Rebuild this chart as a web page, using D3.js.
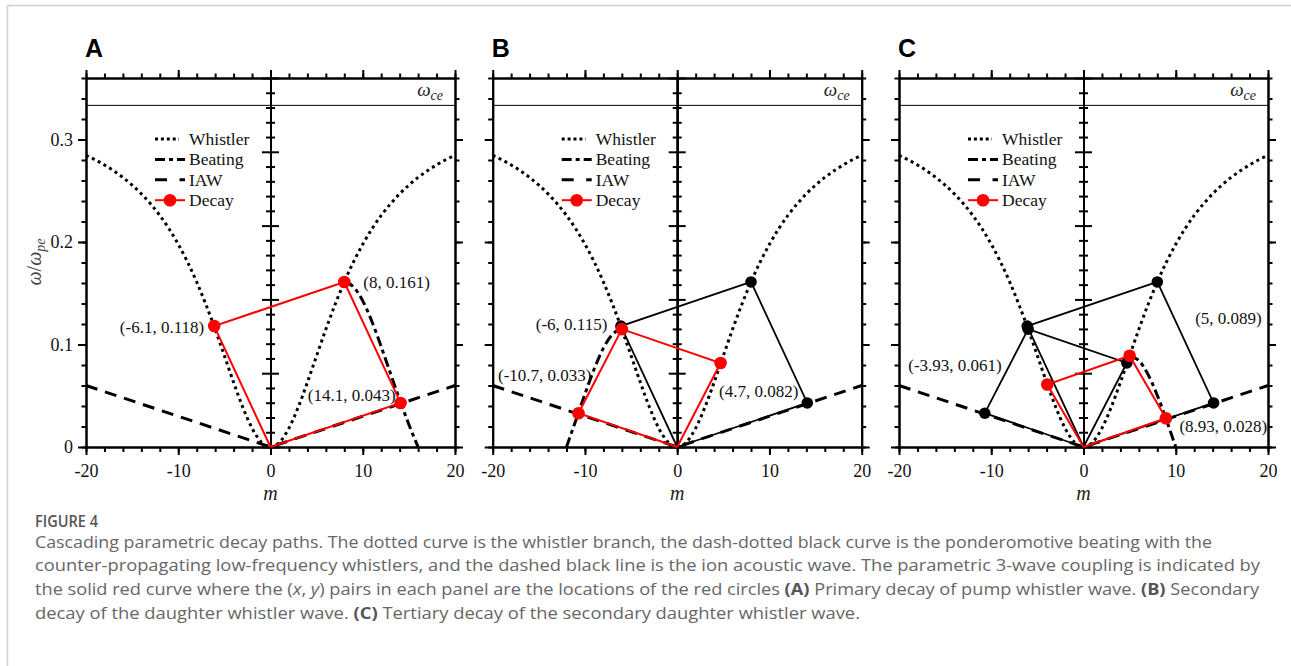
<!DOCTYPE html>
<html>
<head>
<meta charset="utf-8">
<script src="https://cdn.jsdelivr.net/npm/d3@7"></script>
<style>
  body { margin: 0; background: #fff; }
  svg { display: block; }
</style>
</head>
<body>
<svg id="fig" width="1291" height="666"></svg>
<script>
// ---------------- data ----------------
const mTicks = [-20, -10, 0, 10, 20];
const mMinorTicks = d3.range(-20, 21, 2);
const wTicks = [0, 0.1, 0.2, 0.3];
const wMinorTicks = d3.range(0, 0.3601, 0.02);
const omegaCe = 0.3333;

// whistler branch, m = -20 ... 20
const whistlerM = d3.range(-20, 21);
const whistlerW = [0.2846, 0.2802, 0.2752, 0.2695, 0.2630, 0.2555, 0.2470, 0.2372, 0.2259, 0.2129,
                   0.1978, 0.1806, 0.1610, 0.1390, 0.1148, 0.0891, 0.0631, 0.0387, 0.0184, 0.0048,
                   0,
                   0.0048, 0.0184, 0.0387, 0.0631, 0.0891, 0.1148, 0.1390, 0.1610, 0.1806, 0.1978,
                   0.2129, 0.2259, 0.2372, 0.2470, 0.2555, 0.2630, 0.2695, 0.2752, 0.2802, 0.2846];

// ion acoustic wave
const iawM = [-20, 0, 20];
const iawW = [0.06, 0, 0.06];

// ponderomotive beating curves
const beatingM_A = [8, 9, 10, 11, 12, 13, 14, 15, 16];
const beatingW_A = [0.161, 0.1562, 0.1426, 0.1223, 0.0979, 0.0719, 0.0462, 0.0220, 0];
const beatingM_B = [-12, -11, -10, -9, -8, -7, -6];
const beatingW_B = [0, 0.0257, 0.0517, 0.0761, 0.0965, 0.1100, 0.115];
const beatingM_C = [5, 6, 7, 8, 9, 10];
const beatingW_C = [0.089, 0.0843, 0.0707, 0.0504, 0.0260, 0];

// decay paths (closed loops through the origin)
const decayM_A = [0, -6.1, 8, 14.1, 0];
const decayW_A = [0, 0.118, 0.161, 0.043, 0];
const decayM_B = [0, -10.7, -6, 4.7, 0];
const decayW_B = [0, 0.033, 0.115, 0.082, 0];
const decayM_C = [0, -3.93, 5, 8.93, 0];
const decayW_C = [0, 0.061, 0.089, 0.028, 0];

const panelLetters = ["A", "B", "C"];
const legendLabels = ["Whistler", "Beating", "IAW", "Decay"];

const captionTitle = "FIGURE 4";
const captionLines = [
  [["Cascading parametric decay paths. The dotted curve is the whistler branch, the dash-dotted black curve is the ponderomotive beating with the", ""]],
  [["counter-propagating low-frequency whistlers, and the dashed black line is the ion acoustic wave. The parametric 3-wave coupling is indicated by", ""]],
  [["the solid red curve where the (", ""], ["x", "i"], [", ", ""], ["y", "i"], [") pairs in each panel are the locations of the red circles ", ""],
   ["(A)", "b"], [" Primary decay of pump whistler wave. ", ""], ["(B)", "b"], [" Secondary", ""]],
  [["decay of the daughter whistler wave. ", ""], ["(C)", "b"], [" Tertiary decay of the secondary daughter whistler wave.", ""]]
];

// ---------------- layout ----------------
const svg = d3.select("#fig");
const SERIF = "'Liberation Serif', 'DejaVu Serif', serif";
const plotW = 369, plotTop = 78, plotBottom = 447;
const panelX0 = [86, 492.7, 899];

svg.append("rect").attr("width", 1291).attr("height", 666).attr("fill", "#fff");
svg.append("rect").attr("x", 7.5).attr("y", 5.5).attr("width", 1320).attr("height", 720)
  .attr("fill", "none").attr("stroke", "#cfcfcf").attr("stroke-width", 1.5);

const zip = (ms, ws) => ms.map((m, i) => ({m, w: ws[i]}));

const panels = [
  {
    beat: zip(beatingM_A, beatingW_A),
    black: [],
    blackDots: [],
    red: zip(decayM_A, decayW_A),
    labels: [
      {p: 1, dx: -10, dy: 1.5, anchor: "end"},
      {p: 2, dx: 19, dy: 0, anchor: "start"},
      {p: 3, dx: -5, dy: -8, anchor: "end"}
    ]
  },
  {
    beat: zip(beatingM_B, beatingW_B),
    black: [zip(decayM_A, decayW_A)],
    blackDots: zip(decayM_A, decayW_A).slice(1, 4),
    red: zip(decayM_B, decayW_B),
    labels: [
      {p: 1, dx: 13, dy: -38, anchor: "end"},
      {p: 2, dx: -14.5, dy: -5, anchor: "end"},
      {p: 3, dx: -1.5, dy: 28, anchor: "start"}
    ]
  },
  {
    beat: zip(beatingM_C, beatingW_C),
    black: [zip(decayM_A, decayW_A), zip(decayM_B, decayW_B)],
    blackDots: zip(decayM_A, decayW_A).slice(1, 4).concat(zip(decayM_B, decayW_B).slice(1, 4)),
    red: zip(decayM_C, decayW_C),
    labels: [
      {p: 1, dx: -45.5, dy: -19.5, anchor: "end"},
      {p: 2, dx: 65.5, dy: -37.5, anchor: "start"},
      {p: 3, dx: 13.5, dy: 8.5, anchor: "start"}
    ]
  }
];

const styles = {
  whistler: {w: 3, dash: "3 3.6"},
  beating: {w: 3, dash: "10 4 4 4"},
  iaw: {w: 3, dash: "12 8"}
};

function styleAxis(g) {
  g.attr("font-family", null).attr("font-size", null);
  g.selectAll(".domain").attr("stroke", "#000").attr("stroke-width", 2);
  g.selectAll(".tick line").attr("stroke", "#000").attr("stroke-width", 2);
  g.selectAll(".tick text").attr("font-family", SERIF).attr("font-size", 18).attr("fill", "#111");
}

panels.forEach((P, pi) => {
  const x0 = panelX0[pi];
  const x = d3.scaleLinear().domain([-20, 20]).range([x0, x0 + plotW]);
  const y = d3.scaleLinear().domain([0, 0.36]).range([plotBottom, plotTop]);
  const yc = d3.scaleLinear().domain([0, 25]).range([plotBottom, plotTop]);
  const g = svg.append("g");

  const line = d3.line().x(d => x(d.m)).y(d => y(d.w));
  const smooth = d3.line().x(d => x(d.m)).y(d => y(d.w)).curve(d3.curveMonotoneX);

  // ω_ce reference line
  g.append("line").attr("x1", x(-20)).attr("x2", x(20)).attr("y1", y(omegaCe)).attr("y2", y(omegaCe))
    .attr("stroke", "#000").attr("stroke-width", 1);
  const ce = g.append("text").attr("x", x(20) - 12).attr("y", y(omegaCe) - 9)
    .attr("text-anchor", "end").attr("font-family", SERIF).attr("font-size", 19).attr("fill", "#222");
  ce.append("tspan").attr("font-style", "italic").text("ω");
  ce.append("tspan").attr("font-style", "italic").attr("font-size", 14).attr("dy", 3.5).text("ce");

  // dispersion curves
  g.append("path").datum(zip(whistlerM, whistlerW)).attr("d", smooth)
    .attr("fill", "none").attr("stroke", "#000").attr("stroke-width", styles.whistler.w)
    .attr("stroke-dasharray", styles.whistler.dash);
  g.append("path").datum(zip(iawM, iawW)).attr("d", line)
    .attr("fill", "none").attr("stroke", "#000").attr("stroke-width", styles.iaw.w)
    .attr("stroke-dasharray", styles.iaw.dash);
  g.append("path").datum(P.beat).attr("d", smooth)
    .attr("fill", "none").attr("stroke", "#000").attr("stroke-width", styles.beating.w)
    .attr("stroke-dasharray", styles.beating.dash);

  // axes: bottom, left, top, right, centre
  const gx = g.append("g").attr("transform", `translate(0,${plotBottom})`);
  gx.append("g").call(d3.axisBottom(x).tickValues(mMinorTicks).tickSize(5).tickSizeOuter(0).tickFormat("")).call(styleAxis);
  gx.append("g").call(d3.axisBottom(x).tickValues(mTicks).tickSize(8).tickSizeOuter(0).tickPadding(9)
    .tickFormat(d => String(d))).call(styleAxis);

  const gy = g.append("g").attr("transform", `translate(${x0},0)`);
  gy.append("g").call(d3.axisLeft(y).tickValues(wMinorTicks).tickSize(4.5).tickSizeOuter(0).tickFormat("")).call(styleAxis);
  gy.append("g").call(d3.axisLeft(y).tickValues(wTicks).tickSize(8).tickSizeOuter(0).tickPadding(5)
    .tickFormat(d => pi === 0 ? String(d) : "")).call(styleAxis);

  const gt = g.append("g").attr("transform", `translate(0,${plotTop})`);
  gt.append("g").call(d3.axisTop(x).tickValues(mMinorTicks).tickSize(4.5).tickSizeOuter(0).tickFormat("")).call(styleAxis);
  gt.append("g").call(d3.axisTop(x).tickValues(mTicks).tickSize(8).tickSizeOuter(0).tickFormat("")).call(styleAxis);

  const gr = g.append("g").attr("transform", `translate(${x0 + plotW},0)`);
  gr.append("g").call(d3.axisRight(y).tickValues(wMinorTicks).tickSize(4.5).tickSizeOuter(0).tickFormat("")).call(styleAxis);
  gr.append("g").call(d3.axisRight(y).tickValues(wTicks).tickSize(8).tickSizeOuter(0).tickFormat("")).call(styleAxis);

  const gc = g.append("g").attr("transform", `translate(${x(0)},0)`);
  const cMinor = d3.range(0, 26).filter(v => v % 5 !== 0);
  const cMajor = d3.range(0, 26, 5);
  [d3.axisLeft, d3.axisRight].forEach(ax => {
    gc.append("g").call(ax(yc).tickValues(cMinor).tickSize(4.5).tickSizeOuter(0).tickFormat("")).call(styleAxis);
    gc.append("g").call(ax(yc).tickValues(cMajor).tickSize(8.5).tickSizeOuter(0).tickFormat("")).call(styleAxis);
  });

  // earlier decay paths in black
  P.black.forEach(path => {
    g.append("path").datum(path).attr("d", line).attr("fill", "none")
      .attr("stroke", "#000").attr("stroke-width", 1.8);
  });
  g.selectAll(null).data(P.blackDots).join("circle")
    .attr("cx", d => x(d.m)).attr("cy", d => y(d.w)).attr("r", 5.8).attr("fill", "#000");

  // current decay path in red
  g.append("path").datum(P.red).attr("d", line).attr("fill", "none")
    .attr("stroke", "#ff0000").attr("stroke-width", 2);
  g.selectAll(null).data(P.red.slice(1, 4)).join("circle")
    .attr("cx", d => x(d.m)).attr("cy", d => y(d.w)).attr("r", 6.3).attr("fill", "#ff0000");

  // (m, ω) annotations
  P.labels.forEach(L => {
    const d = P.red[L.p];
    g.append("text").attr("x", x(d.m) + L.dx).attr("y", y(d.w) + L.dy).attr("dy", "0.33em")
      .attr("text-anchor", L.anchor).attr("font-family", SERIF).attr("font-size", 17).attr("fill", "#111")
      .text(`(${d.m}, ${d.w})`);
  });

  // legend
  const lg = g.append("g");
  const rowY = i => 139 + i * 20.4;
  const sx1 = x0 + 69, sx2 = x0 + 99;
  const legDash = ["3 2.9", styles.beating.dash, "12 12.5"];
  [styles.whistler, styles.beating, styles.iaw].forEach((s, i) => {
    lg.append("line").attr("x1", sx1).attr("x2", i === 0 ? sx2 - 6 : sx2).attr("y1", rowY(i)).attr("y2", rowY(i))
      .attr("stroke", "#000").attr("stroke-width", s.w).attr("stroke-dasharray", legDash[i]);
  });
  lg.append("line").attr("x1", sx1).attr("x2", sx2).attr("y1", rowY(3)).attr("y2", rowY(3))
    .attr("stroke", "#ff0000").attr("stroke-width", 2);
  lg.append("circle").attr("cx", (sx1 + sx2) / 2).attr("cy", rowY(3)).attr("r", 6.3).attr("fill", "#ff0000");
  legendLabels.forEach((t, i) => {
    lg.append("text").attr("x", sx2 + 4).attr("y", rowY(i)).attr("dy", "0.33em")
      .attr("font-family", SERIF).attr("font-size", 17.5).attr("fill", "#111").text(t);
  });

  // x-axis title
  g.append("text").attr("x", x(0)).attr("y", 500).attr("text-anchor", "middle")
    .attr("font-family", SERIF).attr("font-size", 20).attr("font-style", "italic").attr("fill", "#222").text("m");

  // panel letter
  g.append("text").attr("x", x0 - 1).attr("y", 57).attr("font-family", "'Liberation Sans', Arial, sans-serif")
    .attr("font-weight", "bold").attr("font-size", 25).text(panelLetters[pi]);
});

// y-axis title (first panel only)
const yl = svg.append("text").attr("transform", "translate(41,262) rotate(-90)")
  .attr("text-anchor", "middle").attr("font-family", SERIF).attr("font-size", 20).attr("fill", "#444");
yl.append("tspan").attr("font-style", "italic").text("ω");
yl.append("tspan").text("/");
yl.append("tspan").attr("font-style", "italic").text("ω");
yl.append("tspan").attr("font-style", "italic").attr("font-size", 14).attr("dy", 4).text("pe");

// caption
const CAP = "'Open Sans', 'Noto Sans', sans-serif";
const capX = 35;
svg.append("text").attr("x", capX).attr("y", 527).attr("font-family", CAP).attr("font-size", 17)
  .attr("font-weight", 600).attr("fill", "#555").attr("textLength", 63).attr("lengthAdjust", "spacingAndGlyphs")
  .text(captionTitle);
const lineEnds = [1212, 1260, 1259, 860];
captionLines.forEach((segs, i) => {
  const t = svg.append("text").attr("x", capX).attr("y", 547.5 + i * 23.7)
    .attr("font-family", CAP).attr("font-size", 16).attr("fill", "#666")
    .attr("textLength", lineEnds[i] - capX).attr("lengthAdjust", "spacingAndGlyphs");
  segs.forEach(([s, f]) => {
    const sp = t.append("tspan").text(s);
    if (f === "i") sp.attr("font-style", "italic");
    if (f === "b") sp.attr("font-weight", "bold").attr("fill", "#555");
  });
});
</script>
</body>
</html>
